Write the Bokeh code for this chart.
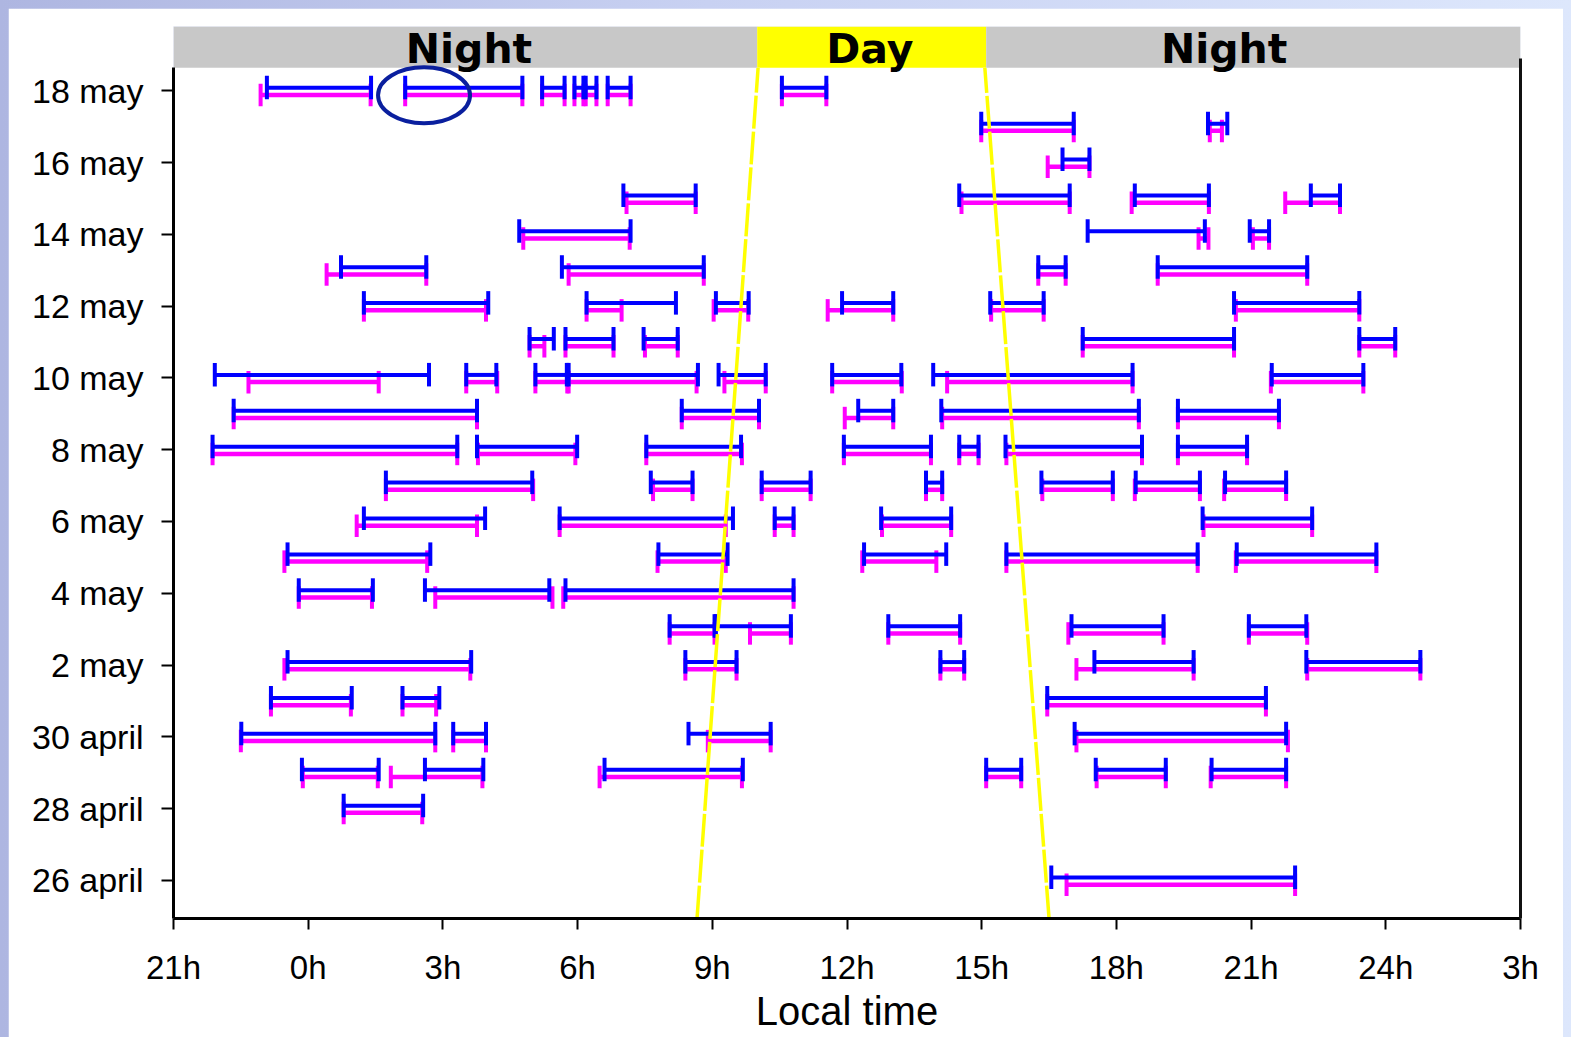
from bokeh.plotting import figure
from bokeh.models import FixedTicker, LinearAxis, Range1d
from bokeh.embed import file_html
from bokeh.resources import INLINE
from bokeh.core.properties import value

# ---------------- data ----------------
# y: days after 26 april (0 = 26 april ... 22 = 18 may)
day_ticks = [0, 2, 4, 6, 8, 10, 12, 14, 16, 18, 20, 22]
day_labels = ["26 april", "28 april", "30 april", "2 may", "4 may", "6 may",
              "8 may", "10 may", "12 may", "14 may", "16 may", "18 may"]
# x: local time in hours (0 = midnight)
hour_ticks = [-3, 0, 3, 6, 9, 12, 15, 18, 21, 24, 27]
hour_labels = ["21h", "0h", "3h", "6h", "9h", "12h", "15h", "18h", "21h", "24h", "3h"]

blue_day = [22, 22, 22, 22, 22, 22, 22,
            21, 21,
            20,
            19, 19, 19, 19,
            18, 18, 18,
            17, 17, 17, 17,
            16, 16, 16, 16, 16, 16,
            15, 15, 15, 15, 15,
            14, 14, 14, 14, 14, 14, 14, 14,
            13, 13, 13, 13, 13,
            12, 12, 12, 12, 12, 12, 12,
            11, 11, 11, 11, 11, 11, 11,
            10, 10, 10, 10, 10,
            9, 9, 9, 9, 9,
            8, 8, 8,
            7, 7, 7, 7, 7,
            6, 6, 6, 6, 6,
            5, 5, 5,
            4, 4, 4, 4,
            3, 3, 3, 3, 3, 3,
            2,
            0]
blue_start = [-0.92, 2.16, 5.21, 5.93, 6.18, 6.67, 10.55,
              14.99, 20.04,
              16.80,
              7.02, 14.50, 18.41, 22.33,
              4.70, 17.36, 20.97,
              0.73, 5.65, 16.26, 18.92,
              1.24, 6.20, 9.08, 11.89, 15.19, 20.62,
              4.93, 5.73, 7.47, 17.25, 23.41,
              -2.08, 3.52, 5.06, 5.80, 9.14, 11.67, 13.92, 21.46,
              -1.66, 8.32, 12.25, 14.10, 19.37,
              -2.13, 3.76, 7.53, 11.93, 14.50, 15.53, 19.37,
              1.73, 7.63, 10.10, 13.76, 16.33, 18.43, 20.42,
              1.24, 5.60, 10.39, 12.76, 19.92,
              -0.46, 7.80, 12.38, 15.55, 20.68,
              -0.21, 2.60, 5.73,
              8.05, 9.08, 12.92, 17.00, 20.95,
              -0.46, 8.40, 14.08, 17.51, 22.23,
              -0.83, 2.10, 16.46,
              -1.49, 3.23, 8.47, 17.07,
              -0.14, 2.60, 6.60, 15.10, 17.54, 20.12,
              0.79,
              16.55]
blue_end = [1.40, 4.77, 5.71, 6.13, 6.42, 7.18, 11.54,
            17.05, 20.47,
            17.40,
            8.63, 16.96, 20.06, 22.98,
            7.18, 19.97, 21.40,
            2.63, 8.81, 16.87, 22.25,
            4.01, 8.19, 9.81, 13.03, 16.38, 23.41,
            5.47, 6.80, 8.23, 20.62, 24.21,
            2.69, 4.19, 5.76, 8.68, 10.19, 13.21, 18.36, 23.50,
            3.76, 10.04, 13.03, 18.50, 21.62,
            3.32, 5.99, 9.64, 13.87, 14.93, 18.57, 20.91,
            4.99, 8.56, 11.19, 14.12, 17.92, 19.86, 21.78,
            3.94, 9.46, 10.81, 14.32, 22.36,
            2.72, 9.34, 14.21, 19.81, 23.79,
            1.44, 5.37, 10.81,
            9.05, 10.75, 14.52, 19.05, 22.23,
            3.63, 9.54, 14.61, 19.72, 24.77,
            0.97, 2.92, 21.33,
            2.83, 3.96, 10.30, 21.78,
            1.57, 3.90, 9.68, 15.88, 19.10, 21.78,
            2.56,
            21.98]

magenta_day = blue_day
magenta_start = [-1.06, 2.16, 5.21, 5.93, 6.18, 6.67, 10.55,
                 14.99, 20.08,
                 16.47,
                 7.09, 14.55, 18.34, 21.76,
                 4.79, 19.83, 21.04,
                 0.41, 5.80, 16.26, 18.92,
                 1.24, 6.20, 9.03, 11.57, 15.21, 20.66,
                 4.93, 5.73, 7.50, 17.25, 23.41,
                 -1.33, 3.52, 5.06, 5.80, 9.27, 11.67, 14.23, 21.44,
                 -1.66, 8.32, 11.95, 14.12, 19.37,
                 -2.13, 3.78, 7.53, 11.93, 14.50, 15.55, 19.37,
                 1.73, 7.68, 10.10, 13.76, 16.35, 18.41, 20.40,
                 1.08, 5.60, 10.39, 12.78, 19.94,
                 -0.53, 7.78, 12.34, 15.55, 20.66,
                 -0.21, 2.83, 5.68,
                 8.05, 9.84, 12.92, 16.93, 20.95,
                 -0.53, 8.40, 14.08, 17.11, 22.25,
                 -0.83, 2.10, 16.46,
                 -1.50, 3.23, 8.90, 17.11,
                 -0.12, 1.84, 6.49, 15.10, 17.56, 20.10,
                 0.79,
                 16.89]
magenta_end = [1.39, 4.77, 5.71, 6.13, 6.42, 7.18, 11.54,
               17.05, 20.35,
               17.40,
               8.63, 16.96, 20.06, 22.98,
               7.16, 20.05, 21.40,
               2.63, 8.81, 16.87, 22.25,
               3.96, 6.98, 9.80, 13.03, 16.38, 23.41,
               5.26, 6.80, 8.23, 20.62, 24.21,
               1.57, 4.21, 5.77, 8.65, 10.19, 13.22, 18.36, 23.50,
               3.76, 10.04, 13.03, 18.50, 21.62,
               3.32, 5.95, 9.66, 13.87, 14.93, 18.57, 20.91,
               5.01, 8.56, 11.19, 14.12, 17.92, 19.86, 21.78,
               3.76, 9.30, 10.81, 14.32, 22.36,
               2.65, 9.30, 13.99, 19.81, 23.79,
               1.42, 5.44, 10.81,
               9.05, 10.75, 14.52, 19.05, 22.25,
               3.61, 9.54, 14.61, 19.72, 24.77,
               0.95, 2.85, 21.33,
               2.83, 3.96, 10.30, 21.82,
               1.55, 3.88, 9.66, 15.88, 19.10, 21.78,
               2.54,
               21.98]

# sunrise / sunset lines (hour at bottom and top of plotting area)
sun_day = [-1.06, 22.64]
sunrise_hour = [8.66, 10.02]
sunset_hour = [16.50, 15.07]

# day/night band
band_start = [-3, 10, 15.1]
band_end = [10, 15.1, 27]
band_label = ["Night", "Day", "Night"]
band_label_hour = [3.58, 12.51, 20.40]

# highlighted event (ellipse)
mark_hour = [2.58]
mark_day = [21.875]

# ---------------- figure ----------------
Y0, Y1 = -1.06, 23.79
W, H = 1557, 1029
ML, MR, MT, MB = 165, 45, 18, 119
px_day = (Y1 - Y0) / (H - MT - MB)   # data units per pixel

p = figure(width=W, height=H, x_range=Range1d(-3, 27), y_range=Range1d(Y0, Y1),
           output_backend="svg", toolbar_location=None,
           min_border_left=ML, min_border_right=MR, min_border_top=MT, min_border_bottom=MB,
           background_fill_color="white", border_fill_color="white",
           outline_line_color=None)
p.xgrid.visible = False
p.ygrid.visible = False


def bars(days, starts, ends, line_off, cap_top, cap_bot, color, lw, cap_w):
    y = [d + line_off * px_day for d in days]
    p.segment(x0=starts, y0=y, x1=ends, y1=y, line_color=color, line_width=lw)
    cx = list(starts) + list(ends)
    cd = list(days) + list(days)
    p.segment(x0=cx, y0=[d + cap_top * px_day for d in cd],
              x1=cx, y1=[d + cap_bot * px_day for d in cd],
              line_color=color, line_width=cap_w)


bars(magenta_day, magenta_start, magenta_end, -4.2, 7, -15.5, "#ff00ff", 4.5, 4)
bars(blue_day, blue_start, blue_end, 3.0, 15, -8.5, "#0000ff", 4, 4)

# sun lines
p.line(sunrise_hour, sun_day, line_color="#ffff00", line_width=3.5, line_dash="33 3")
p.line(sunset_hour, sun_day, line_color="#ffff00", line_width=3.5, line_dash="33 3")

# band
band_bottom = sun_day[1]
p.quad(left=band_start, right=band_end, bottom=[band_bottom] * 3, top=[Y1] * 3,
       fill_color=["#c8c8c8", "#ffff00", "#c8c8c8"], line_color=None)
p.text(x=band_label_hour, y=[Y1 - 22 * px_day] * 3, text=band_label,
       text_font=value("DejaVu Sans"), text_font_style="bold", text_font_size="41px",
       text_align="center", text_baseline="alphabetic", text_color="black")

# ellipse
p.ellipse(x=mark_hour, y=mark_day, width=92, height=56, width_units="screen",
          height_units="screen", fill_color=None, line_color="#0a1f9e", line_width=4)

# axes
xa = p.xaxis[0]
xa.ticker = FixedTicker(ticks=hour_ticks, minor_ticks=[])
xa.major_label_overrides = {t: l for t, l in zip(hour_ticks, hour_labels)}
xa.axis_line_width = 3
xa.axis_line_color = "black"
xa.major_tick_line_width = 2
xa.major_tick_out = 11
xa.major_tick_in = 0
xa.minor_tick_line_color = None
xa.major_label_text_font = "Liberation Sans"
xa.major_label_text_font_size = "33px"
xa.major_label_text_color = "black"
xa.major_label_standoff = 19
xa.axis_label = "Local time"
xa.axis_label_text_font = "Liberation Sans"
xa.axis_label_text_font_size = "40px"
xa.axis_label_text_font_style = "normal"
xa.axis_label_text_color = "black"
xa.axis_label_standoff = 0

ya = p.yaxis[0]
ya.ticker = FixedTicker(ticks=day_ticks, minor_ticks=[])
ya.major_label_overrides = {t: l for t, l in zip(day_ticks, day_labels)}
ya.bounds = (Y0, band_bottom)
ya.axis_line_width = 3
ya.axis_line_color = "black"
ya.major_tick_line_width = 2
ya.major_tick_out = 12
ya.major_tick_in = 0
ya.minor_tick_line_color = None
ya.major_label_text_font = "Liberation Sans"
ya.major_label_text_font_size = "34px"
ya.major_label_text_color = "black"
ya.major_label_standoff = 18

ra = LinearAxis(ticker=FixedTicker(ticks=[], minor_ticks=[]), bounds=(Y0, 22.9),
                axis_line_width=3, axis_line_color="#111111",
                major_label_text_font_size="0px", major_tick_line_color=None,
                minor_tick_line_color=None)
p.add_layout(ra, "right")

html = file_html(p, INLINE, title="Local time activity")
css = ("<style>"
       "html{background:linear-gradient(to right,#aeb6e1 0%,#c8d1f2 45%,#dde7fc 100%) !important;}"
       "html,body{overflow:hidden !important;}"
       "body{margin:8px !important;background:transparent !important;}"
       "</style>")
html = html.replace("</head>", css + "</head>", 1)
open("out.html", "w").write(html)
